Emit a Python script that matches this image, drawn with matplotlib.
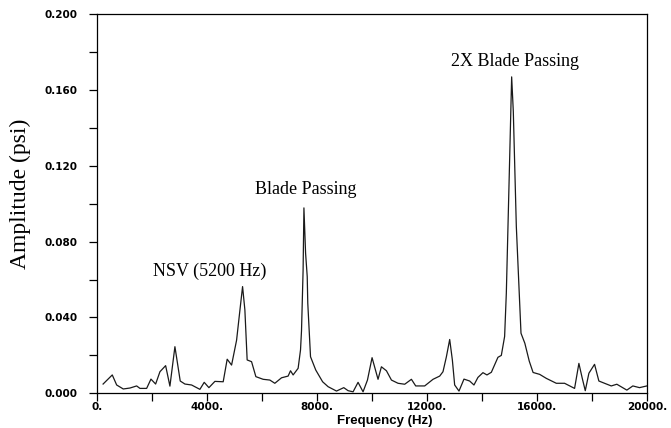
import numpy as np
import matplotlib
matplotlib.use("Agg")
import matplotlib.pyplot as plt
from matplotlib.ticker import MultipleLocator

# spectrum (Hz, psi)
freq = [211, 545, 705, 945, 1190, 1432, 1553, 1796, 1953, 2123, 2280, 2487, 2643,
        2825, 3018, 3189, 3432, 3734, 3891, 4062, 4280, 4582, 4727, 4887, 5069,
        5164, 5287, 5371, 5454, 5614, 5771, 6036, 6280, 6461, 6705, 6945, 7032,
        7127, 7309, 7396, 7432, 7490, 7520, 7580, 7640, 7660, 7760, 7950, 8200,
        8400, 8705, 8970, 9127, 9309, 9490, 9672, 9832, 10000, 10217, 10340,
        10523, 10705, 10945, 11188, 11432, 11588, 11915, 12218, 12461, 12581,
        12705, 12825, 12922, 13006, 13163, 13345, 13551, 13708, 13853, 14035,
        14181, 14341, 14581, 14704, 14824, 14886, 15006, 15080, 15140, 15170,
        15250, 15420, 15560, 15720, 15860, 16100, 16340, 16705, 17006, 17370,
        17527, 17650, 17759, 17891, 18097, 18254, 18461, 18705, 18908, 19272,
        19490, 19733, 20000]
amp = [0.0049, 0.0097, 0.0044, 0.0023, 0.0028, 0.0039, 0.0026, 0.0026, 0.0075,
       0.0049, 0.0114, 0.0146, 0.0038, 0.0246, 0.0065, 0.0049, 0.0044, 0.0021,
       0.0058, 0.0030, 0.0063, 0.0061, 0.0180, 0.0149, 0.0280, 0.0404, 0.0563,
       0.0440, 0.0176, 0.0167, 0.0088, 0.0074, 0.0070, 0.0053, 0.0082, 0.0091,
       0.0119, 0.0097, 0.0132, 0.0229, 0.0330, 0.0650, 0.0978, 0.0740, 0.0616,
       0.0476, 0.0193, 0.0123, 0.0061, 0.0035, 0.0012, 0.0030, 0.0014, 0.0008,
       0.0058, 0.0008, 0.0070, 0.0188, 0.0074, 0.0140, 0.0119, 0.0070, 0.0053,
       0.0048, 0.0074, 0.0039, 0.0039, 0.0074, 0.0091, 0.0114, 0.0193, 0.0284,
       0.0176, 0.0044, 0.0012, 0.0075, 0.0065, 0.0044, 0.0084, 0.0109, 0.0097,
       0.0111, 0.0190, 0.0200, 0.0300, 0.0528, 0.1230, 0.1669, 0.1487, 0.1320,
       0.0880, 0.0317, 0.0264, 0.0170, 0.0110, 0.0100, 0.0079, 0.0053, 0.0053,
       0.0026, 0.0158, 0.0079, 0.0014, 0.0106, 0.0153, 0.0065, 0.0053, 0.0039,
       0.0048, 0.0017, 0.0039, 0.0030, 0.0039]

xticks = [0, 4000, 8000, 12000, 16000, 20000]
xlabels = ["0.", "4000.", "8000.", "12000.", "16000.", "20000."]
yticks = [0.0, 0.04, 0.08, 0.12, 0.16, 0.2]
ylabels = ["0.000", "0.040", "0.080", "0.120", "0.160", "0.200"]

notes = ["NSV (5200 Hz)", "Blade Passing", "2X Blade Passing"]
note_x = [4100, 7570, 15190]
note_y = [0.0645, 0.1075, 0.175]

fig = plt.figure(figsize=(6.71, 4.28), dpi=100)
ax = fig.add_axes([0.145, 0.081, 0.819, 0.886])

ax.plot(freq, amp, color="#1a1a1a", lw=0.9)

ax.set_xlim(0, 20000)
ax.set_ylim(0, 0.2)
ax.set_xticks(xticks)
ax.set_xticklabels(xlabels)
ax.set_yticks(yticks)
ax.set_yticklabels(ylabels)
ax.xaxis.set_minor_locator(MultipleLocator(2000))
ax.yaxis.set_minor_locator(MultipleLocator(0.02))
ax.tick_params(which="both", direction="out", length=6, width=0.9)
ax.tick_params(axis="y", which="major", pad=8)
ax.tick_params(axis="x", which="major", pad=0.5)
for lab in ax.get_xticklabels() + ax.get_yticklabels():
    lab.set_fontfamily("DejaVu Sans")
    lab.set_fontweight("bold")
    lab.set_fontsize(7.5)
for s in ax.spines.values():
    s.set_linewidth(0.9)

for t, x, y in zip(notes, note_x, note_y):
    ax.text(x, y, t, ha="center", va="center", fontsize=13,
            family="Liberation Serif")

fig.text(0.03, 0.546, "Amplitude (psi)", rotation=90, ha="center", va="center",
         fontsize=17, family="Liberation Serif")
fig.text(0.573, 0.017, "Frequency (Hz)", ha="center", va="center",
         fontsize=9.5, fontweight="bold", family="Liberation Sans")

fig.savefig("out.png", dpi=100)
